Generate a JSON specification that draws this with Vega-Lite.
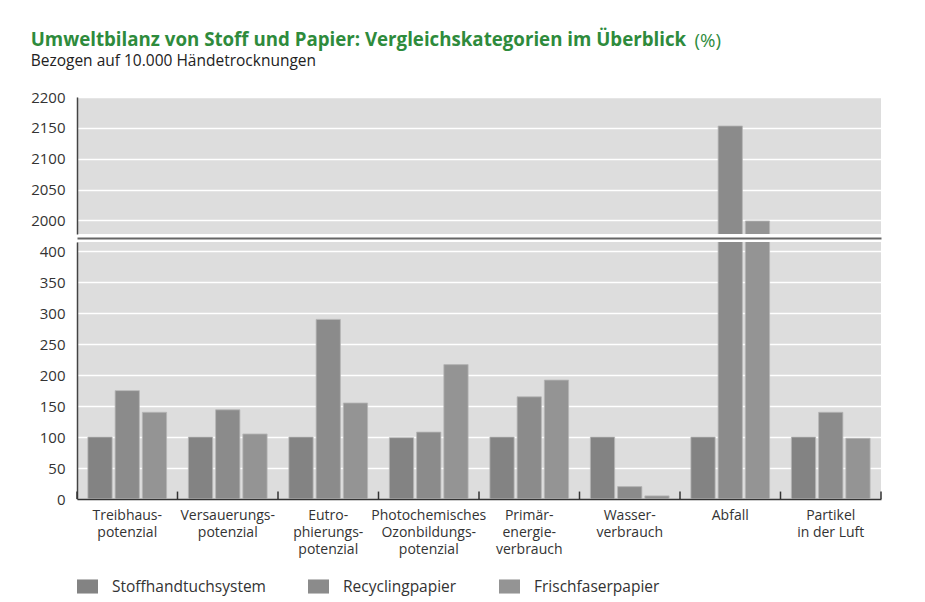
{
  "$schema": "https://vega.github.io/schema/vega-lite/v6.json",
  "padding": {"top": 30, "left": 30, "right": 5, "bottom": 5},
  "background": "white",
  "config": {
    "font": "Open Sans",
    "view": {"fill": "#dddddd", "stroke": null},
    "axis": {
      "labelFont": "Open Sans",
      "labelColor": "#333333",
      "labelFontSize": 15,
      "labelOverlap": false,
      "gridColor": "#ffffff",
      "gridWidth": 1.5,
      "gridOpacity": 1,
      "domainColor": "#444444",
      "domainWidth": 1.5,
      "ticks": false,
      "labelPadding": 12
    },
    "legend": {
      "orient": "bottom",
      "direction": "horizontal",
      "title": null,
      "symbolType": "M-1,-0.67L1,-0.67L1,0.67L-1,0.67Z",
      "symbolSize": 441,
      "symbolStrokeWidth": 0,
      "labelFont": "Open Sans",
      "labelFontSize": 15.5,
      "labelColor": "#333333",
      "columnPadding": 42,
      "labelOffset": 14,
      "offset": 20
    }
  },
  "title": {
    "text": "Umweltbilanz von Stoff und Papier: Vergleichskategorien im Überblick",
    "subtitle": "Bezogen auf 10.000 Händetrocknungen",
    "anchor": "start",
    "frame": "bounds",
    "font": "Open Sans",
    "fontSize": 18.7,
    "fontWeight": "bold",
    "color": "#2e8b3c",
    "subtitleFont": "Open Sans",
    "subtitleFontSize": 15.5,
    "subtitleColor": "#222222",
    "subtitlePadding": 4,
    "offset": -38
  },
  "data": {
    "values": [
      {"Kategorie": "Treibhaus-|potenzial", "System": "Stoffhandtuchsystem", "Wert": 100},
      {"Kategorie": "Treibhaus-|potenzial", "System": "Recyclingpapier", "Wert": 175},
      {"Kategorie": "Treibhaus-|potenzial", "System": "Frischfaserpapier", "Wert": 140},
      {"Kategorie": "Versauerungs-|potenzial", "System": "Stoffhandtuchsystem", "Wert": 100},
      {"Kategorie": "Versauerungs-|potenzial", "System": "Recyclingpapier", "Wert": 144},
      {"Kategorie": "Versauerungs-|potenzial", "System": "Frischfaserpapier", "Wert": 105},
      {"Kategorie": "Eutro-|phierungs-|potenzial", "System": "Stoffhandtuchsystem", "Wert": 100},
      {"Kategorie": "Eutro-|phierungs-|potenzial", "System": "Recyclingpapier", "Wert": 290},
      {"Kategorie": "Eutro-|phierungs-|potenzial", "System": "Frischfaserpapier", "Wert": 155},
      {"Kategorie": "Photochemisches|Ozonbildungs-|potenzial", "System": "Stoffhandtuchsystem", "Wert": 99},
      {"Kategorie": "Photochemisches|Ozonbildungs-|potenzial", "System": "Recyclingpapier", "Wert": 108},
      {"Kategorie": "Photochemisches|Ozonbildungs-|potenzial", "System": "Frischfaserpapier", "Wert": 217},
      {"Kategorie": "Primär-|energie-|verbrauch", "System": "Stoffhandtuchsystem", "Wert": 100},
      {"Kategorie": "Primär-|energie-|verbrauch", "System": "Recyclingpapier", "Wert": 165},
      {"Kategorie": "Primär-|energie-|verbrauch", "System": "Frischfaserpapier", "Wert": 192},
      {"Kategorie": "Wasser-|verbrauch", "System": "Stoffhandtuchsystem", "Wert": 100},
      {"Kategorie": "Wasser-|verbrauch", "System": "Recyclingpapier", "Wert": 20},
      {"Kategorie": "Wasser-|verbrauch", "System": "Frischfaserpapier", "Wert": 5},
      {"Kategorie": "Abfall", "System": "Stoffhandtuchsystem", "Wert": 100},
      {"Kategorie": "Abfall", "System": "Recyclingpapier", "Wert": 2153},
      {"Kategorie": "Abfall", "System": "Frischfaserpapier", "Wert": 1999},
      {"Kategorie": "Partikel|in der Luft", "System": "Stoffhandtuchsystem", "Wert": 100},
      {"Kategorie": "Partikel|in der Luft", "System": "Recyclingpapier", "Wert": 140},
      {"Kategorie": "Partikel|in der Luft", "System": "Frischfaserpapier", "Wert": 98}
    ]
  },
  "spacing": 8,
  "bounds": "flush",
  "resolve": {"scale": {"y": "independent"}},
  "vconcat": [
    {
      "width": 804,
      "height": 137,
      "mark": {"type": "bar", "clip": true, "stroke": "#b5b5b5", "strokeWidth": 0.8},
      "encoding": {
        "x": {
          "field": "Kategorie", "type": "nominal",
          "sort": ["Treibhaus-|potenzial", "Versauerungs-|potenzial", "Eutro-|phierungs-|potenzial", "Photochemisches|Ozonbildungs-|potenzial", "Primär-|energie-|verbrauch", "Wasser-|verbrauch", "Abfall", "Partikel|in der Luft"],
          "scale": {"paddingInner": 0, "paddingOuter": 0},
          "axis": {"orient": "bottom", "labels": false, "ticks": false, "grid": false, "domain": true, "domainColor": "#666666", "domainWidth": 2, "offset": 4, "title": null}
        },
        "xOffset": {
          "field": "System", "type": "nominal",
          "sort": ["Stoffhandtuchsystem", "Recyclingpapier", "Frischfaserpapier"],
          "scale": {"paddingInner": 0.11, "paddingOuter": 0.4}
        },
        "y": {
          "field": "Wert", "type": "quantitative",
          "scale": {"domain": [1978, 2200], "nice": false, "zero": false},
          "axis": {
            "values": [2000, 2050, 2100, 2150, 2200], "format": "d",
            "title": "(%)", "titleAngle": 0, "titleX": 617, "titleY": -51,
            "titleAlign": "left", "titleBaseline": "alphabetic",
            "titleFont": "Open Sans", "titleFontSize": 18.7, "titleFontWeight": "normal", "titleColor": "#2e8b3c"
          }
        },
        "color": {
          "field": "System", "type": "nominal",
          "scale": {"domain": ["Stoffhandtuchsystem", "Recyclingpapier", "Frischfaserpapier"], "range": ["#838383", "#8b8b8b", "#949494"]}
        }
      }
    },
    {
      "width": 804,
      "height": 257,
      "encoding": {
        "x": {
          "field": "Kategorie", "type": "nominal",
          "sort": ["Treibhaus-|potenzial", "Versauerungs-|potenzial", "Eutro-|phierungs-|potenzial", "Photochemisches|Ozonbildungs-|potenzial", "Primär-|energie-|verbrauch", "Wasser-|verbrauch", "Abfall", "Partikel|in der Luft"],
          "scale": {"paddingInner": 0, "paddingOuter": 0},
          "axis": {"orient": "bottom", "labelAngle": 0, "labelExpr": "split(datum.value, '|')", "labelFontSize": 14, "labelLineHeight": 17, "labelPadding": 9, "labelColor": "#333333", "ticks": false, "grid": false, "domainColor": "#333333", "domainWidth": 1.5, "title": null}
        }
      },
      "layer": [
        {
          "mark": {"type": "bar", "clip": true, "stroke": "#b5b5b5", "strokeWidth": 0.8},
          "encoding": {
            "xOffset": {
              "field": "System", "type": "nominal",
              "sort": ["Stoffhandtuchsystem", "Recyclingpapier", "Frischfaserpapier"],
              "scale": {"paddingInner": 0.11, "paddingOuter": 0.4}
            },
            "y": {
              "field": "Wert", "type": "quantitative",
              "scale": {"domain": [0, 415], "nice": false},
              "axis": {"values": [0, 50, 100, 150, 200, 250, 300, 350, 400], "format": "d", "title": null}
            },
            "color": {
              "field": "System", "type": "nominal",
              "scale": {"domain": ["Stoffhandtuchsystem", "Recyclingpapier", "Frischfaserpapier"], "range": ["#838383", "#8b8b8b", "#949494"]}
            }
          }
        },
        {
          "transform": [{"filter": "datum.System == 'Stoffhandtuchsystem'"}],
          "mark": {"type": "rule", "color": "#333333", "strokeWidth": 1.5},
          "encoding": {
            "x": {"field": "Kategorie", "type": "nominal", "bandPosition": 0,
              "sort": ["Treibhaus-|potenzial", "Versauerungs-|potenzial", "Eutro-|phierungs-|potenzial", "Photochemisches|Ozonbildungs-|potenzial", "Primär-|energie-|verbrauch", "Wasser-|verbrauch", "Abfall", "Partikel|in der Luft"]},
            "y": {"datum": 0, "type": "quantitative", "axis": {"values": [0, 50, 100, 150, 200, 250, 300, 350, 400], "format": "d", "title": null}},
            "y2": {"datum": 12}
          }
        },
        {
          "transform": [{"filter": "datum.System == 'Stoffhandtuchsystem' && datum.Kategorie == 'Partikel|in der Luft'"}],
          "mark": {"type": "rule", "color": "#333333", "strokeWidth": 1.5},
          "encoding": {
            "x": {"field": "Kategorie", "type": "nominal", "bandPosition": 1,
              "sort": ["Treibhaus-|potenzial", "Versauerungs-|potenzial", "Eutro-|phierungs-|potenzial", "Photochemisches|Ozonbildungs-|potenzial", "Primär-|energie-|verbrauch", "Wasser-|verbrauch", "Abfall", "Partikel|in der Luft"]},
            "y": {"datum": 0, "type": "quantitative", "axis": {"values": [0, 50, 100, 150, 200, 250, 300, 350, 400], "format": "d", "title": null}},
            "y2": {"datum": 12}
          }
        }
      ]
    }
  ]
}
